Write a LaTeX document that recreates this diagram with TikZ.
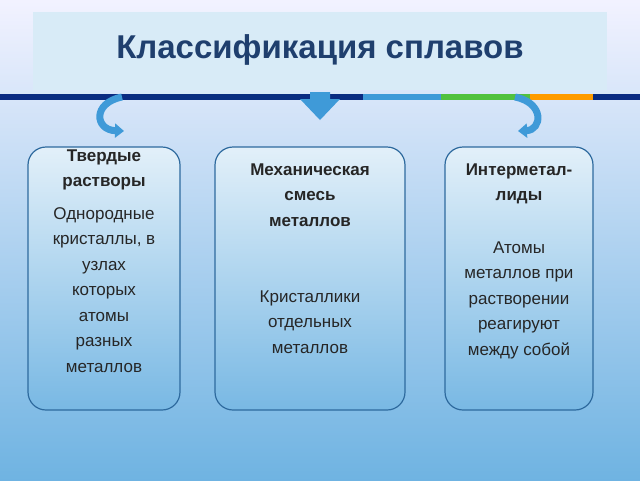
\documentclass[tikz,border=0pt]{standalone}
\usepackage{fontspec}
\setmainfont{Liberation Sans}
\usetikzlibrary{arrows.meta}
\definecolor{navy}{HTML}{0A2A82}
\definecolor{arrowblue}{HTML}{3F9AD8}
\definecolor{edgeblue}{HTML}{2E6A9E}
\definecolor{titlecol}{HTML}{1F3F6E}
\begin{document}
\begin{tikzpicture}[
		x=1pt, y=-1pt,
		panel/.style={draw=edgeblue, line width=1.2pt, rounded corners=18pt,
			top color=white!85!arrowblue, bottom color=arrowblue!70},
		txt/.style={align=center, font=\fontsize{17}{25.5}\selectfont, text=black!85},
		curlarrow/.style={line width=7pt, draw=arrowblue, -{Triangle[width=14pt,length=9pt]}}
	]
  \shade[top color=white!95!blue, bottom color=arrowblue!75] (0,0) rectangle (640,480);
  \useasboundingbox (0,0) rectangle (640,480);
  \fill[white!80!arrowblue] (33,12) rectangle (607,90);
  \node (title) [font=\bfseries\fontsize{33}{38}\selectfont, text=titlecol] at (320,50) {Классификация сплавов};
  % line with coloured pieces
  \fill[navy] (0,94) rectangle (363,100);
  \fill[arrowblue] (363,94) rectangle (441,100);
  \fill[green!45!gray!90!lime] (441,94) rectangle (530,100);
  \fill[orange!80!yellow] (530,94) rectangle (593,100);
  \fill[navy] (593,94) rectangle (640,100);
  % boxes
  \draw[panel] (28,147) rectangle (180,410);
  \draw[panel] (215,147) rectangle (405,410);
  \draw[panel] (445,147) rectangle (593,410);
  \node (solid) [txt, anchor=north] at (104,146)
    {\textbf{Твердые}\\\textbf{растворы}\\[7pt]Однородные\\кристаллы, в\\узлах\\которых\\атомы\\разных\\металлов};
  \node (mixhead) [txt, anchor=north] at (310,160)
    {\textbf{Механическая}\\\textbf{смесь}\\\textbf{металлов}};
  \node (mixbody) [txt, anchor=north] at (310,287)
    {Кристаллики\\отдельных\\металлов};
  \node (inter) [txt, anchor=north] at (519,160)
    {\textbf{Интерметал-}\\\textbf{лиды}\\[27pt]Атомы\\металлов при\\растворении\\реагируют\\между собой};
  % arrows
  \coordinate (lstart) at (122,97);
  \coordinate (lend) at (124,131);
  \coordinate (rstart) at (515,97);
  \coordinate (rend) at (518,131);
  \draw[curlarrow] (lstart) .. controls (92,103) and (95,130) .. (lend);
  \draw[curlarrow] (rstart) .. controls (545,103) and (542,130) .. (rend);
  \fill[arrowblue] (310,92) -- (330,92) -- (330,99) -- (340,99) -- (320,120) -- (300,99) -- (310,99) -- cycle;
\end{tikzpicture}
\end{document}
